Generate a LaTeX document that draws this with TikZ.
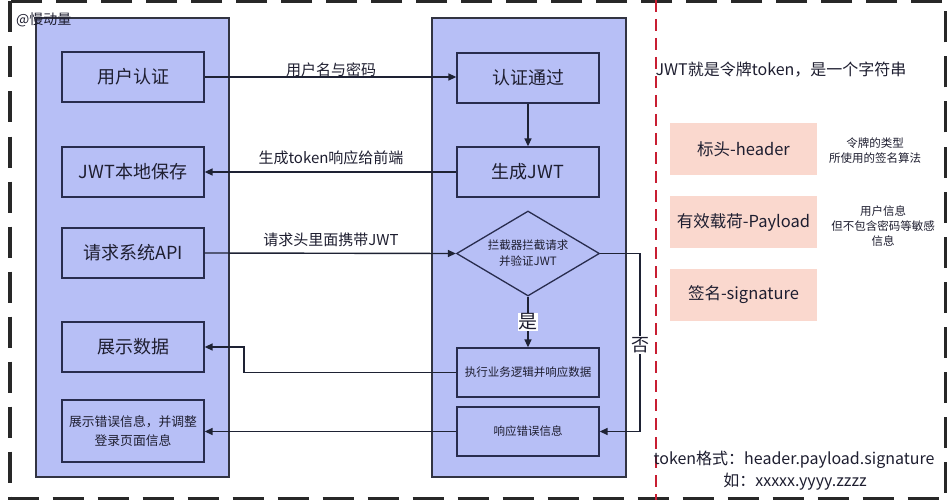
\documentclass[tikz,border=0pt]{standalone}
\usepackage{fontspec}
\setmainfont{Noto Sans CJK SC}
\usetikzlibrary{arrows.meta,shapes.geometric}
\definecolor{panelfill}{RGB}{183,191,246}
\definecolor{panelline}{RGB}{50,52,66}
\definecolor{boxline}{RGB}{40,44,78}
\definecolor{linec}{RGB}{30,34,52}
\definecolor{textc}{RGB}{30,30,48}
\definecolor{pinkc}{RGB}{250,216,206}
\definecolor{redc}{RGB}{200,30,50}
\definecolor{bordc}{RGB}{40,40,40}
\newcommand{\fsz}[1]{\fontsize{#1}{#1}\selectfont}
\tikzset{
  panel/.style={draw=panelline, line width=2, fill=panelfill},
  box/.style={draw=boxline, line width=1.3, fill=panelfill, minimum width=142, minimum height=50, inner sep=0, text=textc, font=\fsz{18}, align=center},
  smallbox/.style={box, font=\fsz{11.5}},
  conn/.style={draw=linec, line width=1.4, -{Triangle[length=8,width=7]}},
  lab/.style={font=\fsz{15}, text=textc, inner sep=0},
  pinkbox/.style={fill=pinkc, minimum width=147, minimum height=52, inner sep=0, text=textc, font=\fsz{16.5}},
  note/.style={font=\fontsize{11.5}{15}\selectfont, text=textc, align=center, inner sep=0},
  info/.style={font=\fsz{16}, text=textc, inner sep=0}
}
\begin{document}
\begin{tikzpicture}[x=1pt,y=-1pt]
\useasboundingbox[fill=white] (0,0) rectangle (947,500);
% outer dashed border
\draw[bordc, line width=4, dash pattern=on 31 off 14] (10,1.5) rectangle (946,499);
% red separator
\draw[redc, line width=2.5, dash pattern=on 12 off 7] (656,0) -- (656,500);
% panels
\draw[panel] (36,18) rectangle (229,477);
\draw[panel] (432,18) rectangle (626,477);
% author tag
\node[anchor=west, font=\fsz{14}, text=textc, inner sep=0] (tag) at (16,20) {@慢动量};
% left boxes
\node[box] (auth) at (133,77) {用户认证};
\node[box] (save) at (133,172) {JWT本地保存};
\node[box] (req) at (133,253) {请求系统API};
\node[box] (show) at (133,347) {展示数据};
\node[box, minimum height=62, font=\fontsize{12.8}{19}\selectfont] (err) at (133,431) {展示错误信息，并调整\\登录页面信息};
% right boxes
\node[box] (pass) at (528,78) {认证通过};
\node[box] (gen) at (528,172) {生成JWT};
\node[diamond, aspect=1.7, draw=boxline, line width=1.3, fill=panelfill, minimum width=143, minimum height=85, inner sep=0, text=textc, align=center, font=\fontsize{11.5}{16}\selectfont] (chk) at (528,253.5) {拦截器拦截请求\\并验证JWT};
\node[smallbox, minimum height=49] (exe) at (528,372.5) {执行业务逻辑并响应数据};
\node[smallbox, minimum height=49] (rerr) at (528,431.5) {响应错误信息};
% bend helpers
\coordinate (nox) at (640,0);
\coordinate (yesx) at (244,0);
% connectors
\draw[conn] (auth.east) -- (auth.east -| pass.west);
\node[lab] (l1) at (331,70) {用户名与密码};
\draw[conn] (pass.south) -- (gen.north);
\draw[conn] (gen.west) -- (gen.west -| save.east);
\node[lab] (l2) at (331,158) {生成token响应给前端};
\draw[conn] (req.east) -- (chk.west);
\node[lab] (l3) at (331,240) {请求头里面携带JWT};
\draw[conn] (chk.south) -- (exe.north);
\node[fill=white, inner sep=0.5, font=\fsz{19}, text=textc] (yes) at (528,322) {是};
\draw[conn] (chk.east) -- (chk.east -| nox) -- (rerr.east -| nox) -- (rerr.east);
\node[fill=white, inner sep=1, font=\fsz{18}, text=textc] (no) at (640,345) {否};
\draw[conn] (exe.west) -- (exe.west -| yesx) -- (show.east -| yesx) -- (show.east);
\draw[conn] (rerr.west) -- (rerr.west -| err.east);
% right side
\node[info] (jwt) at (781,70) {JWT就是令牌token，是一个字符串};
\node[pinkbox] (hd) at (743.5,149) {标头-header};
\node[pinkbox] (pl) at (743.5,222) {有效载荷-Payload};
\node[pinkbox] (sg) at (743.5,294.5) {签名-signature};
\node[note] (n1) at (875,151) {令牌的类型\\所使用的签名算法};
\node[note] (n2) at (883,226) {用户信息\\但不包含密码等敏感\\信息};
\node[info] (fmt) at (794,460) {token格式：header.payload.signature};
\node[info] (ex) at (795,482) {如：xxxxx.yyyy.zzzz};
\end{tikzpicture}
\end{document}
